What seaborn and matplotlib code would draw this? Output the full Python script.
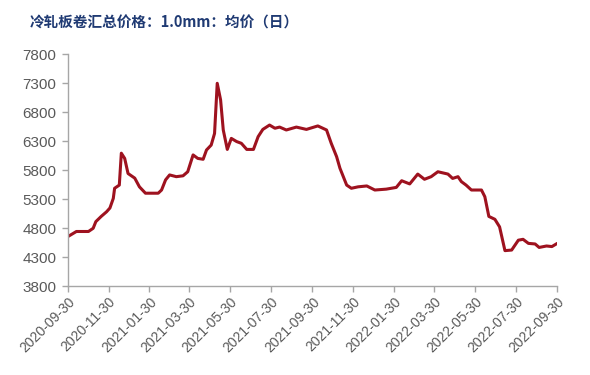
import pandas as pd
import numpy as np
import seaborn as sns
import matplotlib
matplotlib.use("Agg")
import matplotlib.pyplot as plt

# price series (date, yuan/ton)
dates = ["2020-09-30", "2020-10-13", "2020-10-31", "2020-11-07", "2020-11-11", "2020-11-19",
         "2020-11-27", "2020-12-02", "2020-12-07", "2020-12-09", "2020-12-16", "2020-12-19",
         "2020-12-24", "2020-12-29", "2021-01-08", "2021-01-15", "2021-01-24", "2021-02-12",
         "2021-02-17", "2021-02-23", "2021-03-01", "2021-03-11", "2021-03-21", "2021-03-28",
         "2021-04-05", "2021-04-12", "2021-04-20", "2021-04-25", "2021-05-02", "2021-05-07",
         "2021-05-11", "2021-05-16", "2021-05-20", "2021-05-26", "2021-06-01", "2021-06-09",
         "2021-06-16", "2021-06-24", "2021-07-04", "2021-07-11", "2021-07-18", "2021-07-28",
         "2021-08-05", "2021-08-12", "2021-08-22", "2021-09-06", "2021-09-21", "2021-10-08",
         "2021-10-21", "2021-10-28", "2021-11-05", "2021-11-10", "2021-11-20", "2021-11-27",
         "2021-12-07", "2021-12-20", "2022-01-01", "2022-01-18", "2022-02-02", "2022-02-10",
         "2022-02-22", "2022-03-06", "2022-03-16", "2022-03-26", "2022-04-05", "2022-04-20",
         "2022-04-27", "2022-05-05", "2022-05-10", "2022-05-17", "2022-05-25", "2022-06-09",
         "2022-06-14", "2022-06-20", "2022-06-29", "2022-07-06", "2022-07-14", "2022-07-24",
         "2022-08-03", "2022-08-10", "2022-08-18", "2022-08-28", "2022-09-03", "2022-09-14",
         "2022-09-22", "2022-09-30"]
prices = [4650, 4740, 4740, 4795, 4910, 5000,
          5080, 5145, 5310, 5485, 5540, 6090,
          6000, 5740, 5660, 5510, 5400, 5400,
          5455, 5630, 5715, 5685, 5700, 5770,
          6060, 6000, 5985, 6145, 6230, 6430,
          7295, 7010, 6490, 6155, 6345, 6290,
          6260, 6155, 6155, 6375, 6500, 6575,
          6520, 6540, 6490, 6540, 6500, 6560,
          6490, 6260, 6030, 5830, 5540, 5485,
          5510, 5525, 5455, 5470, 5500, 5615,
          5560, 5730, 5640, 5685, 5770, 5730,
          5655, 5685, 5600, 5540, 5455, 5455,
          5340, 5000, 4950, 4820, 4410, 4420,
          4590, 4605, 4535, 4525, 4465, 4490,
          4480, 4535]

tick_labels = ["2020-09-30", "2020-11-30", "2021-01-30", "2021-03-30", "2021-05-30",
               "2021-07-30", "2021-09-30", "2021-11-30", "2022-01-30", "2022-03-30",
               "2022-05-30", "2022-07-30", "2022-09-30"]
y_ticks = [3800, 4300, 4800, 5300, 5800, 6300, 6800, 7300, 7800]
title = "冷轧板卷汇总价格：1.0mm：均价（日）"

df = pd.DataFrame({"date": pd.to_datetime(dates), "price": prices})

sns.set_style("white")
plt.rcParams['font.family'] = ['Noto Sans CJK SC', 'DejaVu Sans']

fig = plt.figure(figsize=(5.9, 3.75), dpi=100)
ax = fig.add_axes([0.1147, 0.2373, 0.8298, 0.6187])

sns.lineplot(data=df, x="date", y="price", ax=ax, color="#9E121F", linewidth=2.2)

tick_dates = pd.to_datetime(tick_labels)
ax.set_xticks(tick_dates)
ax.set_xticklabels(tick_labels, rotation=45, ha="right", rotation_mode="anchor",
                   fontsize=10, color="#595959", family=['Liberation Sans', 'DejaVu Sans'])
ax.set_xlim(tick_dates[0], tick_dates[-1])
ax.set_ylim(3800, 7800)
ax.set_yticks(y_ticks)
ax.set_yticklabels([str(v) for v in y_ticks], fontsize=11, color="#595959",
                   family=['Liberation Sans', 'DejaVu Sans'])
ax.set_xlabel("")
ax.set_ylabel("")

for side in ["top", "right"]:
    ax.spines[side].set_visible(False)
for side in ["left", "bottom"]:
    ax.spines[side].set_color("#A6A6A6")
    ax.spines[side].set_linewidth(1.0)
ax.tick_params(axis="both", which="major", length=4, color="#A6A6A6", width=1.0,
               direction="out", left=True, bottom=True)
ax.tick_params(axis="y", pad=4)
ax.tick_params(axis="x", pad=2)

fig.text(0.051, 0.94, title, fontsize=10.5, fontweight="bold", color="#1F3A73",
         ha="left", va="center")

fig.savefig("out.png", dpi=100)
